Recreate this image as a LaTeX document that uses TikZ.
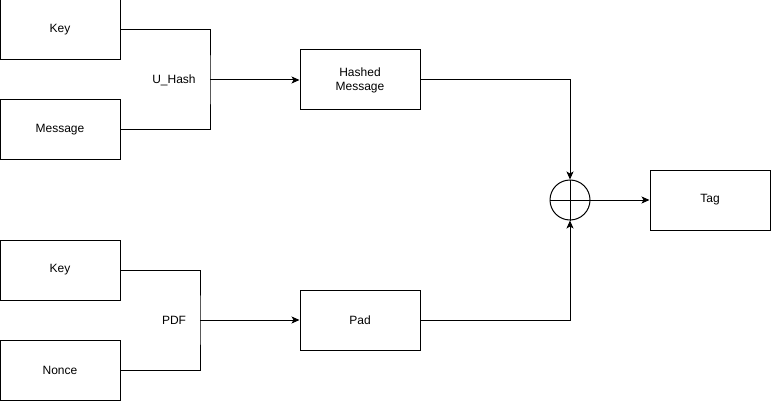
\documentclass[tikz,border=0pt]{standalone}
\usepackage{fontspec}
\setmainfont{Liberation Sans}
\usetikzlibrary{positioning,arrows.meta}
\tikzset{
  block/.style={draw, minimum width=120pt, minimum height=60pt, inner sep=0pt, align=center, font=\fontsize{12}{14}\selectfont},
  lbl/.style={inner sep=0pt, font=\fontsize{12}{14}\selectfont},
  flow/.style={-{Stealth[length=8pt,width=7pt,inset=2pt]}},
}
\begin{document}
\begin{tikzpicture}[x=1pt, y=-1pt, line width=1pt]
    \useasboundingbox (0,0) rectangle (771,401);
         % inputs
    \node[block] (key1) at (60,30) {Key};
    \node[block] (msg) at (60,130) {Message};
    \node[block] (key2) at (60,270) {Key};
    \node[block] (nonce) at (60,370) {Nonce};

    % middle
    \node[block] (hashed) at (360,80) {Hashed\\Message};
    \node[block] (pad) at (360,320) {Pad};
    \node[lbl] (uhash) at (174,80) {U\_Hash};
    \node[lbl] (pdf) at (174,320) {PDF};
    \coordinate (uhashjoin) at (210,80);
    \coordinate (pdfjoin) at (200,320);

    % output
    \node[draw, circle, minimum size=40pt, inner sep=0pt] (xor) at (570,200) {};
    \draw (xor.north) -- (xor.south) (xor.west) -- (xor.east);
    \node[block] (tag) at (710,200) {Tag};

    % connectors
    \draw (key1.east) -| (uhashjoin) |- (msg.east);
    \draw[flow] (uhashjoin) -- (hashed.west);
    \draw (key2.east) -| (pdfjoin) |- (nonce.east);
    \draw[flow] (pdfjoin) -- (pad.west);
    \draw[flow] (hashed.east) -| (xor.north);
    \draw[flow] (pad.east) -| (xor.south);
    \draw[flow] (xor.east) -- (tag.west);
\end{tikzpicture}
\end{document}
